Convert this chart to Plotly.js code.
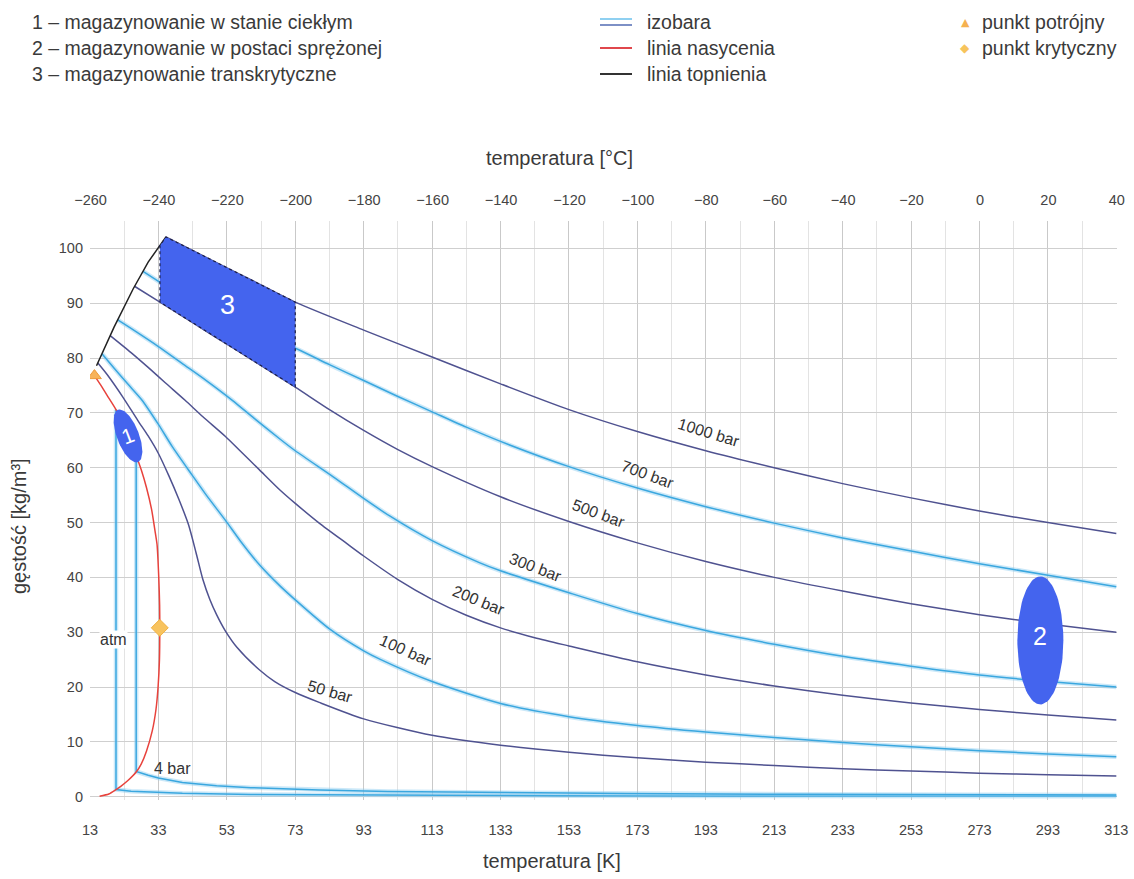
<!DOCTYPE html>
<html>
<head>
<meta charset="utf-8">
<script src="https://cdn.plot.ly/plotly-3.0.1.min.js"></script>
<style>
  html, body { margin: 0; padding: 0; background: #ffffff; }
  #chart { width: 1134px; height: 879px; }
</style>
</head>
<body>
<div id="chart"></div>
<script>
// Hydrogen density vs temperature: isobars, saturation and melting lines.
// Temperatures in K, densities in kg/m3.

const p1000T   = [35.2, 50, 60, 73, 93, 113, 133, 153, 173, 193, 213, 233, 253, 273, 293, 313];
const p1000Rho = [102.1, 97.4, 94.3, 90.2, 85.1, 80.2, 75.3, 70.6, 66.6, 63.1, 60.0, 57.1, 54.5, 52.1, 50.0, 48.0];

const p700T   = [28.5, 33, 40, 50, 60, 73, 83, 93, 103, 113, 123, 133, 153, 173, 193, 213, 233, 253, 273, 293, 313];
const p700Rho = [95.8, 94.0, 91.4, 88.1, 84.9, 81.8, 78.8, 75.9, 73.0, 70.2, 67.4, 64.8, 60.2, 56.3, 52.9, 49.9, 47.2, 44.8, 42.5, 40.4, 38.3];

const p500T   = [26.0, 33.45, 50, 60, 73, 83, 93, 103, 113, 133, 153, 173, 193, 213, 233, 253, 273, 293, 313];
const p500Rho = [93.1, 90.2, 83.7, 79.8, 74.7, 70.6, 66.8, 63.3, 60.2, 54.7, 50.2, 46.3, 42.9, 40.0, 37.5, 35.2, 33.2, 31.5, 30.0];

const p300T   = [21, 26, 33, 40, 47, 54.6, 61, 68.6, 73, 84.2, 93, 100.6, 113, 126.8, 133, 153, 173, 193, 213, 233, 253, 273, 293, 313];
const p300Rho = [87.0, 85.0, 82.1, 79.0, 75.9, 72.3, 69.0, 65.2, 63.1, 58.3, 54.4, 51.2, 46.7, 42.7, 41.2, 37.2, 33.4, 30.3, 27.8, 25.6, 23.8, 22.2, 21.0, 20.0];

const p200T   = [18.9, 25, 30, 35, 40.8, 46, 52.6, 57, 62.4, 68.6, 73, 80, 88, 93, 103, 113, 123, 133, 143, 153, 173, 193, 213, 233, 253, 273, 293, 313];
const p200Rho = [84.1, 81.0, 78.3, 75.5, 72.3, 69.3, 65.7, 63.0, 59.7, 55.9, 53.5, 49.9, 46.2, 43.9, 39.6, 36.0, 33.1, 30.8, 29.0, 27.5, 24.6, 22.2, 20.2, 18.5, 17.1, 15.9, 14.9, 14.0];

const p100T   = [16.5, 20, 24, 28.1, 33, 37, 42.8, 47, 52.6, 57, 62.4, 68.6, 73, 83, 93, 98, 113, 133, 153, 173, 193, 213, 233, 253, 273, 293, 313];
const p100Rho = [80.8, 78.2, 75.3, 72.4, 67.9, 63.9, 58.7, 55.0, 50.4, 46.6, 42.4, 38.4, 35.9, 30.6, 26.6, 25.0, 21.0, 17.0, 14.6, 13.0, 11.8, 10.8, 9.9, 9.1, 8.4, 7.8, 7.3];

const p50T   = [15.3, 18, 22.7, 27, 30, 33, 36, 39, 41.8, 44, 46, 48, 50, 52.6, 56, 62.4, 67, 73, 80, 93, 113, 133, 153, 173, 193, 213, 233, 253, 273, 293, 313];
const p50Rho = [79.1, 77.0, 72.8, 68.6, 65.8, 62.6, 58.6, 54.2, 49.6, 44.5, 39.6, 36.0, 33.2, 30.2, 27.2, 23.2, 21.0, 19.0, 17.2, 14.2, 11.2, 9.4, 8.1, 7.1, 6.3, 5.7, 5.1, 4.7, 4.3, 4.0, 3.8];

const p4T   = [26.5, 26.5, 30, 33, 40, 50, 60, 80, 100, 130, 170, 220, 270, 313];
const p4Rho = [62.2, 4.6, 3.9, 3.4, 2.6, 2.0, 1.65, 1.22, 0.97, 0.75, 0.57, 0.44, 0.36, 0.31];

const atmT   = [20.6, 20.6, 25, 30, 40, 60, 100, 150, 200, 250, 313];
const atmRho = [70.6, 1.3, 1.0, 0.83, 0.61, 0.41, 0.25, 0.16, 0.12, 0.10, 0.08];

// saturation dome: liquid branch, critical point, vapour branch
const satT   = [14.3, 16, 18, 20.6, 23, 25, 26.5, 28, 29.5, 31, 32, 32.6, 33.1, 33.35, 33.4, 33.3, 32.9, 32.3, 31.2, 29.5, 28, 26.5, 24, 22, 20.6, 18.5, 15.8];
const satRho = [76.8, 75.2, 73.2, 70.6, 67.5, 64.5, 62.2, 59.6, 56.4, 52.4, 48.5, 46.0, 40.0, 35.0, 30.8, 25.0, 20.0, 16.0, 12.0, 8.3, 6.0, 4.5, 2.9, 1.9, 1.3, 0.5, 0.1];

// melting line
const meltT   = [14.9, 20, 25.6, 30, 35.2];
const meltRho = [78.6, 85.6, 92.6, 97.5, 102.1];

const tripleT = [14.3], tripleRho = [76.8];
const critT = [33.4], critRho = [30.8];

// storage zones
const zone3T   = [33.45, 33.45, 35.2, 73, 73, 33.45];
const zone3Rho = [90.2, 100.5, 102.1, 90.2, 74.7, 90.2];
const zone1Center = [24.1, 65.8];
const zone2Center = [290.8, 28.5];

const isobarLabels = ['1000 bar', '700 bar', '500 bar', '300 bar', '200 bar', '100 bar', '50 bar', '4 bar', 'atm'];
const legendLeft = ['1 – magazynowanie w stanie ciekłym', '2 – magazynowanie w postaci sprężonej', '3 – magazynowanie transkrytyczne'];
const legendMid = ['izobara', 'linia nasycenia', 'linia topnienia'];
const legendRight = ['punkt potrójny', 'punkt krytyczny'];

const kTicks = [13, 33, 53, 73, 93, 113, 133, 153, 173, 193, 213, 233, 253, 273, 293, 313];

// ---------------------------------------------------------------------------
const W = 1134, H = 879;
const M = {l: 90, r: 17, t: 221, b: 79};
const plotW = W - M.l - M.r, plotH = H - M.t - M.b;
const xRange = [13, 313.2], yRange = [-0.6, 105];
const pxPerK = plotW / (xRange[1] - xRange[0]);
const pxPerRho = plotH / (yRange[1] - yRange[0]);
const KELVIN = 273.15;

const DARK = '#4f5290';
const LIGHT = '#3aa7df';
const HALO = 'rgba(140, 205, 240, 0.45)';
const FONT = 'Liberation Sans, Arial, sans-serif';
const TXT = '#3a3a3a';

// ellipse outline in data units from a centre, pixel semi-axes and a tilt
function ellipse(c, semiPx, tiltDeg) {
  const a = tiltDeg * Math.PI / 180, xs = [], ys = [];
  for (let i = 0; i <= 90; i++) {
    const t = i / 90 * 2 * Math.PI;
    const u = semiPx[0] * Math.cos(t), v = semiPx[1] * Math.sin(t);
    const sx = u * Math.cos(a) + v * Math.sin(a);
    const sy = -u * Math.sin(a) + v * Math.cos(a);
    xs.push(c[0] + sx / pxPerK);
    ys.push(c[1] - sy / pxPerRho);
  }
  return {x: xs, y: ys};
}

// paper coordinates for elements placed in the margins
const px = x => (x - M.l) / plotW;
const py = y => (H - M.b - y) / plotH;

const traces = [];
function isobar(name, T, rho, light, smooth) {
  const shape = smooth ? 'spline' : 'linear';
  if (light) {
    traces.push({x: T, y: rho, mode: 'lines', line: {color: HALO, width: 4.5, shape, smoothing: 0.7}, hoverinfo: 'skip', showlegend: false});
    traces.push({x: T, y: rho, mode: 'lines', name, line: {color: LIGHT, width: 1.5, shape, smoothing: 0.7}, showlegend: false});
  } else {
    traces.push({x: T, y: rho, mode: 'lines', name, line: {color: DARK, width: 1.5, shape, smoothing: 0.7}, showlegend: false});
  }
}
isobar('atm', atmT, atmRho, true, false);
isobar('4 bar', p4T, p4Rho, true, false);
isobar('50 bar', p50T, p50Rho, false, true);
isobar('100 bar', p100T, p100Rho, true, true);
isobar('200 bar', p200T, p200Rho, false, true);
isobar('300 bar', p300T, p300Rho, true, true);
isobar('500 bar', p500T, p500Rho, false, true);
isobar('700 bar', p700T, p700Rho, true, true);
isobar('1000 bar', p1000T, p1000Rho, false, true);

traces.push({x: meltT, y: meltRho, mode: 'lines', name: 'linia topnienia', line: {color: '#222222', width: 1.5}, showlegend: false});
traces.push({x: satT, y: satRho, mode: 'lines', name: 'linia nasycenia', line: {color: '#e8423c', width: 1.5, shape: 'spline', smoothing: 0.6}, showlegend: false});

traces.push({x: zone3T, y: zone3Rho, mode: 'lines', fill: 'toself', fillcolor: '#4464ee',
  line: {color: '#1d1f45', width: 1.2, dash: 'dot'}, hoverinfo: 'skip', showlegend: false});

const e1 = ellipse(zone1Center, [11, 28], 21);
traces.push({x: e1.x, y: e1.y, mode: 'lines', fill: 'toself', fillcolor: '#4464ee', line: {width: 0, color: '#4464ee'}, hoverinfo: 'skip', showlegend: false});
const e2 = ellipse(zone2Center, [23, 64], 0);
traces.push({x: e2.x, y: e2.y, mode: 'lines', fill: 'toself', fillcolor: '#4464ee', line: {width: 0, color: '#4464ee'}, hoverinfo: 'skip', showlegend: false});

traces.push({x: tripleT, y: tripleRho, mode: 'markers', name: 'punkt potrójny',
  marker: {symbol: 'triangle-up', size: 12, color: '#f7b35a', line: {color: '#ee9a3a', width: 1}}, showlegend: false});
traces.push({x: critT, y: critRho, mode: 'markers', name: 'punkt krytyczny',
  marker: {symbol: 'diamond', size: 13, color: '#f8c35e', line: {color: '#f1b040', width: 1}}, showlegend: false});

// carries the Celsius scale on the top axis
traces.push({x: critT.map(t => t - KELVIN), y: critRho, xaxis: 'x2', mode: 'markers',
  marker: {opacity: 0, size: 1}, hoverinfo: 'skip', showlegend: false});

// label anchors (data units) and angles for the isobar names
const labelT     = [193.8, 176.0, 161.7, 143.3, 126.6, 105.3, 83.1, 37.0, 20.0];
const labelRho   = [66.5, 58.7, 51.6, 41.8, 35.7, 26.6, 19.1, 5.2, 28.6];
const labelAngle = [17, 20, 20, 21, 22, 24, 16, 0, 0];

const annotations = [];
isobarLabels.forEach((txt, i) => {
  annotations.push({x: labelT[i], y: labelRho[i], xref: 'x', yref: 'y', text: txt, showarrow: false,
    xanchor: 'center', yanchor: 'middle',
    textangle: labelAngle[i], font: {family: FONT, size: 16, color: '#333333'},
    bgcolor: txt === 'atm' ? '#ffffff' : 'rgba(0,0,0,0)', borderpad: 0});
});

annotations.push({x: zone1Center[0], y: zone1Center[1], xref: 'x', yref: 'y', text: '1', showarrow: false,
  xanchor: 'center', yanchor: 'middle', textangle: -21, font: {family: FONT, size: 21, color: '#ffffff'}});
annotations.push({x: zone2Center[0], y: zone2Center[1] + 0.8, xref: 'x', yref: 'y', text: '2', showarrow: false,
  xanchor: 'center', yanchor: 'middle', font: {family: FONT, size: 25, color: '#ffffff'}});
annotations.push({x: 53.3, y: 89.7, xref: 'x', yref: 'y', text: '3', showarrow: false,
  xanchor: 'center', yanchor: 'middle', font: {family: FONT, size: 27, color: '#ffffff'}});

// axis titles
function paperText(x, y, text, size, extra) {
  annotations.push(Object.assign({x: px(x), y: py(y), xref: 'paper', yref: 'paper', text, showarrow: false,
    xanchor: 'center', yanchor: 'middle', font: {family: FONT, size, color: TXT}}, extra || {}));
}
paperText(559, 158, 'temperatura [°C]', 20);
paperText(552, 861, 'temperatura [K]', 20);
paperText(19, 526, 'gęstość [kg/m³]', 20, {textangle: -90});

// legend block
const rowsY = [22, 48, 74];
legendLeft.forEach((t, i) => paperText(30, rowsY[i], t, 19.5, {xanchor: 'left'}));
legendMid.forEach((t, i) => paperText(645, rowsY[i], t, 19.5, {xanchor: 'left'}));
legendRight.forEach((t, i) => paperText(980, rowsY[i], t, 19.5, {xanchor: 'left'}));
annotations.push({x: px(965), y: py(rowsY[0]), xref: 'paper', yref: 'paper', text: '▲', showarrow: false,
  xanchor: 'center', yanchor: 'middle', font: {family: 'DejaVu Sans', size: 11, color: '#f5b150'}});
annotations.push({x: px(965), y: py(rowsY[1]), xref: 'paper', yref: 'paper', text: '◆', showarrow: false,
  xanchor: 'center', yanchor: 'middle', font: {family: 'DejaVu Sans', size: 12, color: '#f7c45c'}});

const shapes = [
  {type: 'line', xref: 'paper', yref: 'paper', x0: px(600), x1: px(632), y0: py(rowsY[0] - 3), y1: py(rowsY[0] - 3), line: {color: '#8fd0f1', width: 2}},
  {type: 'line', xref: 'paper', yref: 'paper', x0: px(600), x1: px(632), y0: py(rowsY[0] + 3), y1: py(rowsY[0] + 3), line: {color: '#7d90c6', width: 2}},
  {type: 'line', xref: 'paper', yref: 'paper', x0: px(600), x1: px(632), y0: py(rowsY[1]), y1: py(rowsY[1]), line: {color: '#e0474c', width: 2}},
  {type: 'line', xref: 'paper', yref: 'paper', x0: px(600), x1: px(632), y0: py(rowsY[2]), y1: py(rowsY[2]), line: {color: '#333333', width: 2}}
];

const layout = {
  width: W, height: H,
  margin: M,
  paper_bgcolor: '#ffffff', plot_bgcolor: '#ffffff',
  font: {family: FONT, size: 14, color: '#444444'},
  showlegend: false,
  xaxis: {
    range: xRange, tickmode: 'array', tickvals: kTicks, ticktext: kTicks.map(String),
    showgrid: true, gridcolor: '#c9c9c9', gridwidth: 1,
    minor: {tick0: 13, dtick: 10, showgrid: true, gridcolor: '#e3e3e3', gridwidth: 1},
    zeroline: false, showline: false, ticks: '', ticklabelstandoff: 19,
    tickfont: {family: FONT, size: 14.5, color: '#444444'}
  },
  xaxis2: {
    overlaying: 'x', side: 'top', anchor: 'y',
    range: [xRange[0] - KELVIN, xRange[1] - KELVIN], tickmode: 'linear', tick0: -260, dtick: 20,
    showgrid: false, zeroline: false, showline: false, ticks: '', ticklabelstandoff: 12,
    tickfont: {family: FONT, size: 14.5, color: '#444444'}
  },
  yaxis: {
    range: yRange, tickmode: 'linear', tick0: 0, dtick: 10,
    showgrid: true, gridcolor: '#cfcfcf', gridwidth: 1,
    zeroline: false, showline: false, ticks: '', ticklabelstandoff: 6,
    tickfont: {family: FONT, size: 14.5, color: '#444444'}
  },
  annotations, shapes
};

Plotly.newPlot('chart', traces, layout, {displayModeBar: false, staticPlot: true});
</script>
</body>
</html>
